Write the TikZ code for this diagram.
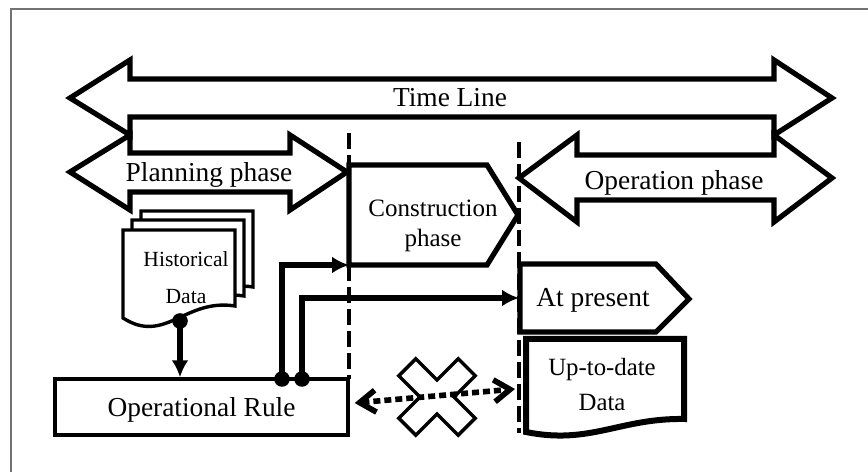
\documentclass[tikz,border=0pt]{standalone}
\usepackage{fontspec}
\setmainfont{Liberation Serif}
\usetikzlibrary{arrows.meta}
\begin{document}
\begin{tikzpicture}[x=0.5bp,y=-0.5bp,>={Latex[length=8.5bp,width=8.5bp]},
  bigarrow/.style={draw,fill=white,line width=2.6bp},
  conn/.style={line width=2.6bp},
  dashline/.style={line width=1.8bp,dash pattern=on 8bp off 3bp},
  dotarrow/.style={line width=2.8bp,dash pattern=on 3.5bp off 2bp,
    {Straight Barb[length=8bp,width=11bp]}-{Straight Barb[length=8bp,width=11bp]}},
  txt/.style={font=\fontsize{13.7bp}{16bp}\selectfont,inner sep=0pt}]
\useasboundingbox (0,0) rectangle (868,472);
\draw[line width=1bp,black!55] (11,472)--(11,9)--(868,9);
\draw[dashline] (349,133)--(349,379);
\draw[dashline] (519,142)--(519,433);
\draw[bigarrow] (70,98)--(130,60)--(130,79)--(774,79)--(774,60)--(832,98)--(774,135)--(774,117)--(130,117)--(130,135)--cycle;
\draw[bigarrow] (70,172)--(130,135)--(130,153)--(290,153)--(290,135)--(347,172)--(290,210)--(290,192)--(130,192)--(130,210)--cycle;
\draw[bigarrow] (519,178)--(577,135)--(577,155)--(774,155)--(774,135)--(832,178)--(774,222)--(774,200)--(577,200)--(577,222)--cycle;
\draw[bigarrow] (349,165)--(487,165)--(518,215)--(487,265)--(349,265)--cycle;
\draw[bigarrow] (520,264)--(656,264)--(689,299)--(656,332)--(520,332)--cycle;
\draw[fill=white,line width=1.7bp,shift={(18,-19)}] (123,230)--(235,230)--(235,306) .. controls (185,298) and (165,345) .. (123,318)--cycle;
\draw[fill=white,line width=1.7bp,shift={(9,-10)}] (123,230)--(235,230)--(235,306) .. controls (185,298) and (165,345) .. (123,318)--cycle;
\draw[fill=white,line width=1.7bp] (123,230)--(235,230)--(235,306) .. controls (185,298) and (165,345) .. (123,318)--cycle;
\draw[fill=white,line width=3bp] (526,339)--(684,339)--(684,419) .. controls (620,418) and (590,445) .. (526,432)--cycle;
\node[txt,anchor=base] (time) at (450,107) {Time Line};
\node[txt,anchor=base] (plan) at (209,182) {Planning phase};
\node[txt,anchor=base] (oper) at (674,190) {Operation phase};
\node[txt,anchor=base] (pres) at (593,307) {At present};
\node[inner sep=0pt,align=center,anchor=base,font=\fontsize{12.5bp}{15bp}\selectfont] (cons) at (433,247) {Construction\\phase};
\node[inner sep=0pt,align=center,anchor=base,font=\fontsize{10.8bp}{18.5bp}\selectfont] (hist) at (186,304) {Historical\\Data};
\node[inner sep=0pt,align=center,anchor=base,font=\fontsize{12.4bp}{17.5bp}\selectfont] (uptd) at (602,411) {Up-to-date\\Data};
\node[txt,draw,line width=1.7bp,minimum width=146.5bp,minimum height=28bp,text depth=0pt] (rule) at (201.5,407) {Operational Rule};
\coordinate (hd) at (180,321);
\coordinate (r1) at (282,379);
\coordinate (r2) at (302,379);
\coordinate (cs) at (349,265);
\coordinate (ap) at (519,298);
\coordinate (ud) at (515,389);
\draw[conn,->] (hd)--(hd |- rule.north);
\draw[conn,->] (r1) |- (cs);
\draw[conn,->] (r2) |- (ap);
\fill (hd) circle[radius=3.9bp];
\fill (r1) circle[radius=3.9bp];
\fill (r2) circle[radius=3.9bp];
\draw[line width=1.7bp,shift={(437,397)},rotate=45] (12,42)--(-12,42)--(-12,12)--(-42,12)--(-42,-12)--(-12,-12)--(-12,-42)--(12,-42)--(12,-12)--(42,-12)--(42,12)--(12,12)--cycle;
\draw[dotarrow] ([xshift=2.5bp,yshift=2bp]rule.east)--(ud);
\end{tikzpicture}
\end{document}
